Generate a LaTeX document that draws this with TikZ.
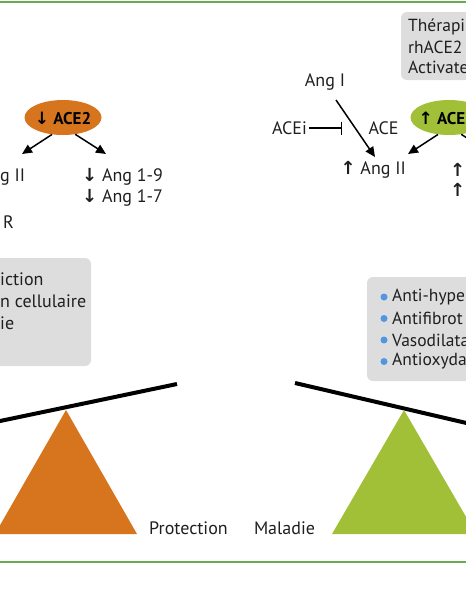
\documentclass[tikz,border=0pt]{standalone}
\usepackage{fontspec}
\setmainfont{PT Sans}
\newfontfamily\arrfont{DejaVu Sans}
\usetikzlibrary{shapes.geometric,arrows.meta}
\definecolor{orangeC}{RGB}{214,117,30}
\definecolor{greenC}{RGB}{161,192,55}
\definecolor{lineC}{RGB}{104,170,80}
\definecolor{boxC}{RGB}{221,221,221}
\definecolor{bulletC}{RGB}{80,150,225}
\newcommand\dnarr{{\arrfont\bfseries\char"2193}}
\newcommand\uparr{{\arrfont\bfseries\char"2191}}
\begin{document}
\begin{tikzpicture}[x=1pt,y=-1pt,
  txt/.style={font=\fontsize{18}{21}\selectfont, inner sep=0pt, text=black!88},
  edgetxt/.style={font=\fontsize{17.5}{21}\selectfont, inner sep=0pt, text=black!88},
  oval/.style={ellipse, minimum width=77pt, minimum height=35pt, inner sep=0pt},
  ovaltxt/.style={font=\fontsize{17}{20}\selectfont\bfseries, inner sep=0pt},
  graybox/.style={fill=boxC, rounded corners=6pt},
  conn/.style={line width=1.5pt, -{Triangle[length=10pt,width=9pt]}},
  inhib/.style={line width=1.2pt, -{Bar[width=13pt,line width=1.2pt]}},
  beam/.style={line width=4pt},
  bullet/.style={circle, fill=bulletC, inner sep=0pt, minimum size=7pt}]
\useasboundingbox (0,0) rectangle (466,600);
\clip (0,0) rectangle (466,600);
% frame lines
\draw[lineC, line width=2pt] (-5,1.5) -- (471,1.5);
\draw[lineC, line width=2pt] (-5,562) -- (471,562);
% gray boxes
\fill[graybox] (-80,258) rectangle (91,366);
\fill[graybox] (401,12) rectangle (560,80);
\fill[graybox] (367,277) rectangle (560,381);
% left side
\node[oval, fill=orangeC] (aceL) at (63,117.5) {};
\node[ovaltxt] (aceLt) at (63,118) {\dnarr\ ACE2};
\node[txt, anchor=west] (angIIL) at (0,177) {g II};
\node[txt, anchor=west] (at1rL) at (3,222) {R};
\node[txt, anchor=west] (a19L) at (82,176.5) {\dnarr\ Ang 1-9};
\node[txt, anchor=west] (a17L) at (82,198) {\dnarr\ Ang 1-7};
\coordinate (tipL1) at (22,154);
\coordinate (tipL2) at (106,154);
\draw[conn] (aceL.237) -- (tipL1);
\draw[conn] (aceL.306) -- (tipL2);
\node[txt, anchor=west] (b1L) at (0,279) {iction};
\node[txt, anchor=west] (b2L) at (0,301) {n cellulaire};
\node[txt, anchor=west] (b3L) at (0,323) {ie};
% right side
\node[edgetxt, anchor=west] (t1) at (408,27) {Thérapi};
\node[edgetxt, anchor=west] (t2) at (408,47) {rhACE2};
\node[edgetxt, anchor=west] (t3) at (408,67) {Activate};
\node[txt] (angI) at (325,82) {Ang I};
\node[txt] (ace) at (383.5,128) {ACE};
\node[txt] (acei) at (289.5,128) {ACEi};
\node[txt, anchor=east] (angIIR) at (406,170) {\uparr\ Ang II};
\node[oval, fill=greenC] (aceR) at (449,117.5) {};
\node[ovaltxt, anchor=east] (aceRt) at (465.5,118) {\uparr\ ACE};
\node[txt, anchor=east] (a19R) at (465.5,170) {\uparr};
\node[txt, anchor=east] (a17R) at (465.5,190) {\uparr};
\coordinate (angIfrom) at (336,100);
\coordinate (tipR0) at (375,157);
\coordinate (barR) at (342,128);
\coordinate (tipR1) at (408,154);
\coordinate (tipR2) at (492,154);
\draw[conn] (angIfrom) -- (tipR0);
\draw[inhib] (acei.east) ++(2,0) -- (barR);
\draw[conn] (aceR.237) -- (tipR1);
\draw[conn] (aceR.306) -- (tipR2);
\node[bullet] (d1) at (384,297) {};
\node[bullet] (d2) at (384,318.5) {};
\node[bullet] (d3) at (384,340) {};
\node[bullet] (d4) at (384,361.5) {};
\node[edgetxt, anchor=west] (r1) at (392,297) {Anti-hype};
\node[edgetxt, anchor=west] (r2) at (392,318.5) {Antifibrot};
\node[edgetxt, anchor=west] (r3) at (392,340) {Vasodilata};
\node[edgetxt, anchor=west] (r4) at (392,361.5) {Antioxyda};
% balance
\draw[beam] (-20,425.2) -- (177,384);
\draw[beam] (295,383) -- (490,428.5);
\fill[orangeC] (66,410) -- (137,534) -- (-5,534) -- cycle;
\fill[greenC] (404,410) -- (476,534) -- (332,534) -- cycle;
\node[txt] (prot) at (188.5,528) {Protection};
\node[txt] (mal) at (284.5,528) {Maladie};
\end{tikzpicture}
\end{document}
